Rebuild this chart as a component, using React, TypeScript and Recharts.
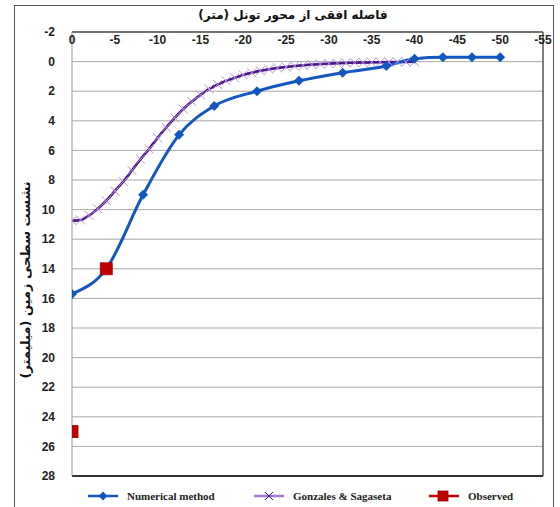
import React from 'react'
import {
  ComposedChart,
  Line,
  Scatter,
  XAxis,
  YAxis,
  CartesianGrid,
  ReferenceLine,
} from 'recharts'

// Numerical method (x = horizontal distance, y = settlement in mm)
const numericalX = [0, -4, -8.3, -12.5, -16.6, -21.6, -26.5, -31.6, -36.7, -40, -43.3, -46.7, -50]
const numericalY = [15.7, 14.0, 9.0, 4.95, 3.0, 2.0, 1.3, 0.75, 0.3, -0.2, -0.3, -0.3, -0.3]

// Gonzales & Sagaseta
const gonzalesX = [
  0, -1, -2, -3, -4, -5, -6, -7, -8, -9, -10, -11, -12, -13, -14, -15, -16, -17, -18, -19, -20,
  -21, -22, -23, -24, -25, -26, -27, -28, -29, -30, -31, -32, -33, -34, -35, -36, -37, -38, -39, -40,
]
const gonzalesY = [
  10.75, 10.7, 10.4, 9.95, 9.4, 8.75, 8.1, 7.35, 6.6, 5.9, 5.15, 4.45, 3.8, 3.2, 2.7, 2.25, 1.85,
  1.55, 1.3, 1.1, 0.9, 0.75, 0.62, 0.52, 0.43, 0.36, 0.3, 0.25, 0.2, 0.17, 0.14, 0.11, 0.09, 0.07,
  0.06, 0.05, 0.04, 0.03, 0.02, 0.02, 0.01,
]

// Observed
const observedX = [-4, 0]
const observedY = [14, 25]

const xTicks = [0, -5, -10, -15, -20, -25, -30, -35, -40, -45, -50, -55]
const yTicks = [-2, 0, 2, 4, 6, 8, 10, 12, 14, 16, 18, 20, 22, 24, 26, 28]

const numericalData = numericalX.map((x, i) => ({ x, y: numericalY[i] }))
const gonzalesData = gonzalesX.map((x, i) => ({ x, y: gonzalesY[i] }))
const observedData = observedX.map((x, i) => ({ x, y: observedY[i] }))

const BLUE = '#1257c0'
const PURPLE = '#4c1787'
const PURPLE_MARK = '#b594e2'
const RED = '#c00000'

const arabicFont = '"DejaVu Sans", sans-serif'

function Diamond({ cx, cy, size = 5, fill }: any) {
  if (cx == null || cy == null) return null
  return (
    <polygon
      points={`${cx},${cy - size} ${cx + size},${cy} ${cx},${cy + size} ${cx - size},${cy}`}
      fill={fill}
    />
  )
}

function Cross({ cx, cy, size = 4.5, stroke }: any) {
  if (cx == null || cy == null) return null
  return (
    <g stroke={stroke} strokeWidth={1}>
      <line x1={cx - size} y1={cy - size} x2={cx + size} y2={cy + size} />
      <line x1={cx - size} y1={cy + size} x2={cx + size} y2={cy - size} />
    </g>
  )
}

function Square({ cx, cy, size = 6 }: any) {
  if (cx == null || cy == null) return null
  return (
    <rect x={cx - size} y={cy - size} width={size * 2} height={size * 2} fill={RED} stroke="#9a0000" strokeWidth={0.8} />
  )
}

const XTick = ({ x, y, payload }: any) => (
  <text
    x={x}
    y={y + 12}
    textAnchor="middle"
    fontSize={12}
    fontWeight="bold"
    fontFamily='"Liberation Sans", Arial, sans-serif'
    fill="#222"
  >
    {payload.value}
  </text>
)

function LegendRow() {
  const item = (label: string, marker: React.ReactNode, color: string, w: number) => (
    <div style={{ display: 'flex', alignItems: 'center', width: w }}>
      <svg width={32} height={14}>
        <line x1={1} y1={7} x2={31} y2={7} stroke={color} strokeWidth={2.5} />
        {marker}
      </svg>
      <span style={{ marginLeft: 8 }}>{label}</span>
    </div>
  )
  return (
    <div
      style={{
        position: 'absolute',
        left: 87,
        top: 489,
        display: 'flex',
        fontFamily: '"Liberation Serif", "Times New Roman", serif',
        fontSize: 11,
        fontWeight: 'bold',
        color: '#222',
      }}
    >
      {item('Numerical method', <Diamond cx={16} cy={7} size={4.5} fill={BLUE} />, BLUE, 166)}
      {item('Gonzales & Sagaseta', <Cross cx={16} cy={7} size={4} stroke={PURPLE} />, '#a07ad0', 175)}
      {item('Observed', <Square cx={15} cy={7} size={5} />, RED, 110)}
    </div>
  )
}

export default function App() {
  return (
    <div
      style={{
        position: 'absolute',
        left: 0,
        top: 0,
        width: 560,
        height: 507,
        background: '#fff',
        overflow: 'hidden',
      }}
    >
      {/* outer frame */}
      <div
        style={{
          position: 'absolute',
          left: 14,
          top: 5,
          width: 540,
          height: 510,
          border: '1px solid #555',
          boxSizing: 'border-box',
        }}
      />
      <div
        style={{
          position: 'absolute',
          left: 0,
          top: 8,
          width: 586,
          textAlign: 'center',
          fontFamily: arabicFont,
          fontWeight: 'bold',
          fontSize: 12,
          color: '#111',
          direction: 'rtl',
        }}
      >
        فاصله افقی از محور تونل (متر)
      </div>
      <div
        style={{
          position: 'absolute',
          left: 25,
          top: 280,
          transform: 'translate(-50%, -50%) rotate(-90deg)',
          whiteSpace: 'nowrap',
          fontFamily: arabicFont,
          fontWeight: 'bold',
          fontSize: 13,
          color: '#111',
          direction: 'rtl',
        }}
      >
        نشست سطحی زمین (میلیمتر)
      </div>

      <ComposedChart
        width={560}
        height={507}
        margin={{ top: 0, right: 17, bottom: 31, left: 0 }}
        style={{ position: 'absolute', left: 0, top: 0 }}
      >
        <CartesianGrid vertical={false} stroke="#a8a8a8" strokeWidth={1} />
        <XAxis
          type="number"
          dataKey="x"
          orientation="top"
          domain={[-55, 0]}
          reversed
          ticks={xTicks}
          interval={0}
          height={32}
          tickSize={0}
          tickMargin={0}
          tick={<XTick />}
          axisLine={{ stroke: '#555', strokeWidth: 1.5 }}
          allowDataOverflow
        />
        <YAxis
          type="number"
          dataKey="y"
          domain={[-2, 28]}
          reversed
          ticks={yTicks}
          interval={0}
          width={72}
          tickSize={0}
          tickMargin={17}
          tickLine={false}
          axisLine={{ stroke: '#999' }}
          tick={{
            fontSize: 12,
            fontWeight: 'bold',
            fill: '#222',
            fontFamily: '"Liberation Sans", Arial, sans-serif',
          }}
          allowDataOverflow
        />
        <ReferenceLine x={-55} stroke="#555" strokeWidth={1.5} />
        <ReferenceLine y={28} stroke="#333" strokeWidth={2} />
        {/* markers first, then the darker curve on top */}
        <Line
          data={gonzalesData}
          dataKey="y"
          type="monotone"
          stroke={PURPLE}
          strokeWidth={2}
          dot={(p: any) => <Cross key={`g-${p.index}`} cx={p.cx} cy={p.cy} stroke={PURPLE_MARK} />}
          activeDot={false}
          isAnimationActive={false}
          legendType="none"
        />
        <Line
          data={gonzalesData}
          dataKey="y"
          type="monotone"
          stroke={PURPLE}
          strokeWidth={2.5}
          dot={false}
          activeDot={false}
          isAnimationActive={false}
        />
        <Line
          data={numericalData}
          dataKey="y"
          type="monotone"
          stroke={BLUE}
          strokeWidth={3}
          dot={(p: any) => <Diamond key={`n-${p.index}`} cx={p.cx} cy={p.cy} fill={BLUE} />}
          activeDot={false}
          isAnimationActive={false}
        />
        <Scatter
          data={observedData}
          dataKey="y"
          shape={(p: any) => <Square cx={p.cx} cy={p.cy} />}
          isAnimationActive={false}
        />
      </ComposedChart>
      <LegendRow />
    </div>
  )
}
